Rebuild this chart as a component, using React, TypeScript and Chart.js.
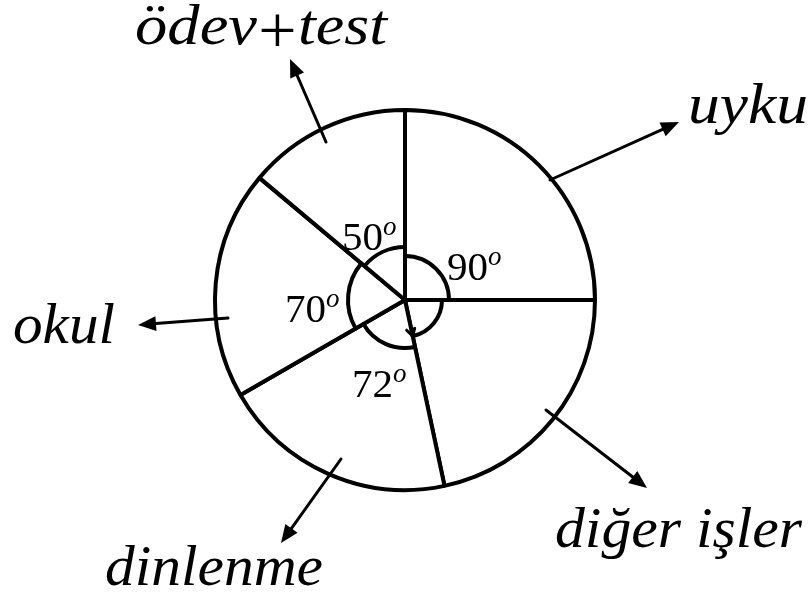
import React, { useEffect, useRef } from "react";
import { Chart, registerables } from "chart.js";

Chart.register(...registerables);

// Data (clockwise from top)
const categories = ["uyku", "diğer işler", "dinlenme", "okul", "ödev + test"];
const degrees = [90, 78, 72, 70, 50];
const angleLabels = ["90", "", "72", "70", "50"];

// Annotation layout: text left x, width, baseline; arrow from -> to
const labelLayout = [
  { x: 688, w: 120, y: 123, ax1: 550, ay1: 180, ax2: 679, ay2: 122 },
  { x: 555, w: 247, y: 547, ax1: 546, ay1: 410, ax2: 647, ay2: 488 },
  { x: 105, w: 218, y: 585, ax1: 341, ay1: 459, ax2: 281, ay2: 543 },
  { x: 13, w: 102, y: 343, ax1: 228, ay1: 318, ax2: 138, ay2: 325 },
  { x: 135, w: 252, y: 44, ax1: 326, ay1: 142, ax2: 290, ay2: 59 },
];
// layout of the split "a + b" label: left part, centred plus, right part
const plusLayout = { leftW: 122, plusX: 277.5, plusDy: 9, plusSize: 68, rightX: 298, rightW: 89 };
const angleArcRadius = [44, 37, 48, 57, 53];
const angleLabelPos = [
  { x: 447, y: 280 },
  null,
  { x: 352, y: 397 },
  { x: 285, y: 322 },
  { x: 342, y: 250 },
];

function arrow(ctx: CanvasRenderingContext2D, x1: number, y1: number, x2: number, y2: number, head = 18, w = 7.5) {
  const a = Math.atan2(y2 - y1, x2 - x1);
  const bx = x2 - Math.cos(a) * head;
  const by = y2 - Math.sin(a) * head;
  ctx.beginPath();
  ctx.moveTo(x1, y1);
  ctx.lineTo(bx, by);
  ctx.stroke();
  ctx.beginPath();
  ctx.moveTo(x2, y2);
  ctx.lineTo(bx + Math.sin(a) * w, by - Math.cos(a) * w);
  ctx.lineTo(bx - Math.sin(a) * w, by + Math.cos(a) * w);
  ctx.closePath();
  ctx.fill();
}

function fitText(ctx: CanvasRenderingContext2D, text: string, x: number, y: number, w: number, font: string) {
  ctx.font = font;
  const mw = ctx.measureText(text).width;
  ctx.save();
  ctx.translate(x, y);
  ctx.scale(w / mw, 1);
  ctx.fillText(text, 0, 0);
  ctx.restore();
}

const annotationPlugin = {
  id: "annot",
  afterDraw(chart: any) {
    const ctx = chart.ctx as CanvasRenderingContext2D;
    const meta = chart.getDatasetMeta(0);
    ctx.save();
    ctx.strokeStyle = "#000";
    ctx.fillStyle = "#000";
    ctx.lineCap = "round";
    ctx.lineJoin = "round";
    ctx.textAlign = "left";
    ctx.textBaseline = "alphabetic";
    meta.data.forEach((arc: any, i: number) => {
      const cx = arc.x;
      const cy = arc.y;
      // angle arc
      const r = angleArcRadius[i];
      ctx.lineWidth = 4;
      ctx.beginPath();
      ctx.arc(cx, cy, r, arc.startAngle, arc.endAngle);
      ctx.stroke();
      if (i === 1) {
        const ex = cx + Math.cos(arc.endAngle) * r;
        const ey = cy + Math.sin(arc.endAngle) * r;
        ctx.lineWidth = 3;
        ctx.beginPath();
        ctx.moveTo(ex - 6, ey - 6);
        ctx.lineTo(ex, ey);
        ctx.lineTo(ex + 2, ey - 8);
        ctx.stroke();
      }
      // angle label
      const p = angleLabelPos[i];
      if (p && angleLabels[i]) {
        ctx.font = '41px "Liberation Serif"';
        const w = ctx.measureText(angleLabels[i]).width;
        ctx.fillText(angleLabels[i], p.x, p.y);
        ctx.font = 'italic 27px "Liberation Serif"';
        ctx.fillText("o", p.x + w, p.y - 15);
      }
      // category arrow + label
      const L = labelLayout[i];
      ctx.lineWidth = 3;
      arrow(ctx, L.ax1, L.ay1, L.ax2, L.ay2);
      const font = 'italic 58px "Liberation Serif"';
      const name = categories[i];
      if (name.includes("+")) {
        const parts = name.split("+").map((s) => s.trim());
        fitText(ctx, parts[0], L.x, L.y, plusLayout.leftW, font);
        ctx.font = `${plusLayout.plusSize}px "Liberation Serif"`;
        ctx.textAlign = "center";
        ctx.fillText("+", plusLayout.plusX, L.y + plusLayout.plusDy);
        ctx.textAlign = "left";
        fitText(ctx, parts[1], plusLayout.rightX, L.y, plusLayout.rightW, font);
      } else {
        fitText(ctx, name, L.x, L.y, L.w, font);
      }
    });
    ctx.restore();
  },
};

export default function App() {
  const ref = useRef<HTMLCanvasElement | null>(null);
  useEffect(() => {
    document.body.style.margin = "0";
    const chart = new Chart(ref.current as HTMLCanvasElement, {
      type: "pie",
      data: {
        labels: categories,
        datasets: [
          {
            data: degrees,
            backgroundColor: "#ffffff",
            borderColor: "#000000",
            borderWidth: 4,
            radius: 190,
          } as any,
        ],
      },
      options: {
        responsive: false,
        animation: false,
        rotation: 0,
        layout: { padding: { top: 111, bottom: 109, left: 0, right: 1 } },
        plugins: { legend: { display: false }, tooltip: { enabled: false } },
        events: [],
      },
      plugins: [annotationPlugin],
    });
    return () => chart.destroy();
  }, []);
  return (
    <div style={{ position: "absolute", left: 0, top: 0, width: 811, height: 598, background: "#fff" }}>
      <canvas ref={ref} width={811} height={598} />
    </div>
  );
}
